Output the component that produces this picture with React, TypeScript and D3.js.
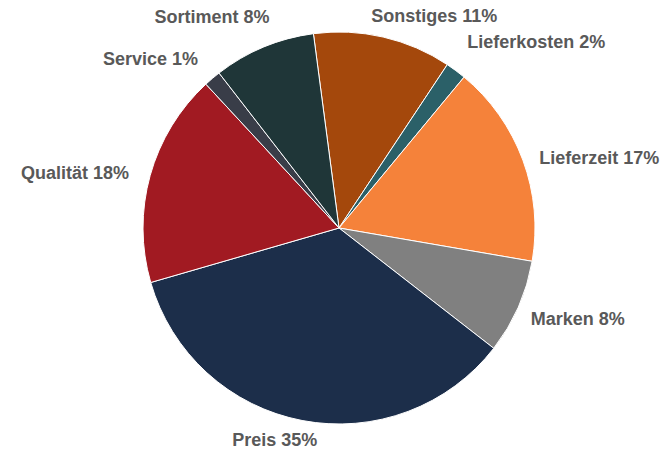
import React, { useEffect, useRef } from "react";
import * as d3 from "d3";

// Anteile, im Uhrzeigersinn ab Sonstiges
const categories = ["Sonstiges", "Lieferkosten", "Lieferzeit", "Marken", "Preis", "Qualität", "Service", "Sortiment"];
const shares = [11.4, 1.7, 16.7, 7.8, 35.0, 17.6, 1.4, 8.4];
const colors = ["#A4480C", "#2B6068", "#F5823A", "#808080", "#1C2E4A", "#A11A22", "#393D48", "#1F3638"];

// Label-Korrekturen (Winkel in Grad, Abstand in px), wie Excel sie verschiebt
const labelNudge: Record<string, [number, number]> = {
  Sonstiges: [7, 1],
  Lieferkosten: [4, 20],
  Lieferzeit: [2, 0],
  Marken: [0, 0],
  Preis: [4, -6],
  "Qualität": [-1.5, 4],
  Service: [-3.7, 10],
  Sortiment: [-4, 12],
};

const W = 672;
const H = 452;

export default function App() {
  const ref = useRef<SVGSVGElement>(null);

  useEffect(() => {
    document.body.style.margin = "0";
    const svg = d3.select(ref.current);
    svg.selectAll("*").remove();

    const cx = 339, cy = 228, r = 196, gap = 18;
    const start = (-7.5 * Math.PI) / 180;
    const data = categories.map((c, i) => ({ name: c, value: shares[i], color: colors[i] }));

    const pie = d3.pie<any>()
      .sort(null)
      .value(d => d.value)
      .startAngle(start)
      .endAngle(start + 2 * Math.PI);
    const arcs = pie(data);
    const arc = d3.arc<any>().innerRadius(0).outerRadius(r);

    const g = svg.append("g").attr("transform", `translate(${cx},${cy})`);
    g.selectAll("path")
      .data(arcs)
      .enter()
      .append("path")
      .attr("d", arc)
      .attr("fill", d => d.data.color)
      .attr("stroke", "#fff")
      .attr("stroke-width", 1);

    const labels = g.selectAll("text")
      .data(arcs)
      .enter()
      .append("text")
      .attr("font-family", "'Liberation Sans', Arial, sans-serif")
      .attr("font-weight", "bold")
      .attr("font-size", 18)
      .attr("fill", "#595959")
      .attr("text-anchor", "middle")
      .text(d => `${d.data.name} ${Math.round(d.data.value)}%`);

    labels.each(function (d) {
      const el = this as SVGTextElement;
      const w = el.getComputedTextLength();
      const h = 22;
      const [da, dg] = labelNudge[d.data.name] || [0, 0];
      const a = (d.startAngle + d.endAngle) / 2 + (da * Math.PI) / 180;
      const rho = r + gap + dg;
      const s = Math.sin(a), c = Math.cos(a);
      const x = rho * s + (s * w) / 2;
      const y = -rho * c - (c * h) / 2;
      d3.select(el).attr("x", x).attr("y", y + 6.5);
    });
  }, []);

  return <svg ref={ref} width={W} height={H} style={{ display: "block", background: "#fff" }} />;
}
